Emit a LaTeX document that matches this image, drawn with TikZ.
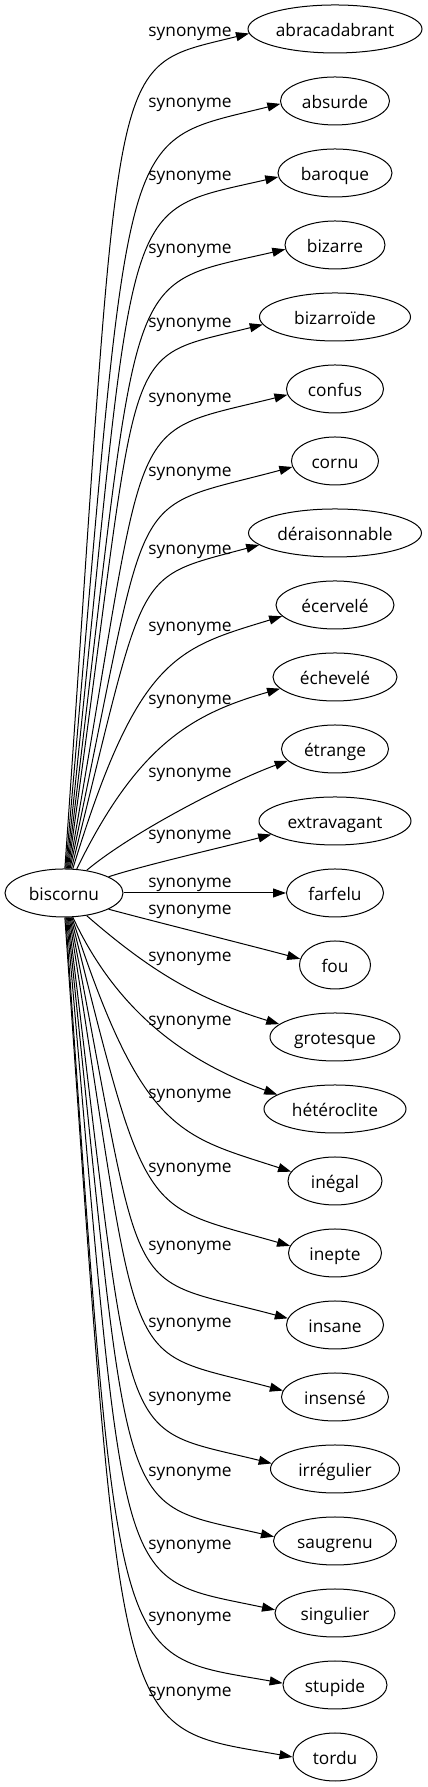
\documentclass[tikz,border=0pt]{standalone}
\usepackage{fontspec}
\setmainfont{Open Sans}
\usetikzlibrary{shapes.geometric,arrows.meta}
\begin{document}
\begin{tikzpicture}[x=1pt,y=1pt,
  tgt/.style={draw, ellipse, inner sep=0pt, minimum height=48pt, line width=1pt,
    text height=15.4pt, text depth=0pt, font=\fontsize{17.3}{20}\selectfont},
  lbl/.style={anchor=base, inner sep=0pt, font=\fontsize{17.3}{20}\selectfont},
  conn/.style={line width=1pt, -{Triangle[length=13pt,width=9pt]}}]
\useasboundingbox (0,0) rectangle (428,1787);
\node[tgt, minimum width=118pt] (b) at (64,894) {biscornu};
\foreach \i/\lab/\w/\ly/\sa/\so/\od/\ea/\ein/\id in {
 0/abracadabrant/174/32/88/86/835/183/194/150,
 1/absurde/109/103/86/85/763/183/194/172,
 2/baroque/114/176/84/84/691/184/193/170,
 3/bizarre/100/249/82/83/619/185/193/174,
 4/bizarroïde/151/323/80/82/547/186/194/154,
 5/confus/97/398/78/80/475/187/194/174,
 6/cornu/87/472/76/78/403/188/195/178,
 7/déraisonnable/173/550/73/76/315/189/195/133,
 8/écervelé/118/627/70/73/223/192/197/110,
 9/échevelé/124/700/62/64/140/192/196/90,
 10/étrange/107/773/45/40/60/194/200/60,
 11/extravagant/152/835/20/18/40/192/195/40,
 13/fou/71/910/340/-15/50/170/165/50,
 14/grotesque/130/957/315/-41/85/167/163/85,
 15/hétéroclite/142/1021/290/-65/110/166/160/91,
 16/inégal/94/1094/288/-72/228/168/162/117,
 17/inepte/93/1168/286/-76/317/171/164/155,
 18/insane/97/1246/284/-79/406/172/165/176,
 19/insensé/107/1323/282/-81/478/173/165/172,
 20/irrégulier/129/1397/280/-83/550/175/166/163,
 21/saugrenu/123/1472/278/-84/622/176/167/166,
 22/singulier/120/1545/276/-85/694/177/168/167,
 23/stupide/104/1617/274/-86/766/178/170/174,
 24/tordu/84/1692/272/-86/840/180/170/182}{
  \node[tgt, minimum width=\w pt] (t\i) at (335,{1758-72*\i}) {\lab};
  \node[lbl] (l\i) at (190,{1787-\ly-4.5}) {synonyme};
  \draw[conn] (b.\sa) to[out=\so, in=\ein, out distance=\od pt, in distance=\id pt] (t\i.\ea);
}
\node[tgt, minimum width=97pt] (t12) at (335,894) {farfelu};
\node[lbl] (l12) at (190,{1787-883-4.5}) {synonyme};
\draw[conn] (b.east) -- (t12.west);
\end{tikzpicture}
\end{document}
